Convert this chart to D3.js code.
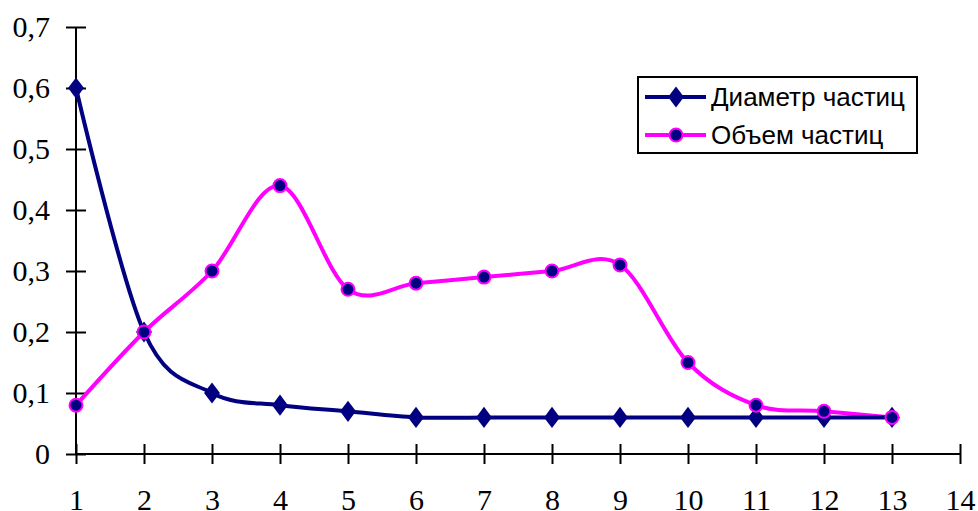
<!DOCTYPE html>
<html>
<head>
  <title>Диаметр и объем частиц</title>
  <script src="https://d3js.org/d3.v7.min.js"></script>
  <style>
    body { margin: 0; background: #fff; }
  </style>
</head>
<body>
  <div id="chart"></div>
  <script>
  const xValues = [1, 2, 3, 4, 5, 6, 7, 8, 9, 10, 11, 12, 13];
  const diameter = [0.6, 0.2, 0.1, 0.08, 0.07, 0.06, 0.06, 0.06, 0.06, 0.06, 0.06, 0.06, 0.06];
  const volume = [0.08, 0.2, 0.3, 0.44, 0.27, 0.28, 0.29, 0.3, 0.31, 0.15, 0.08, 0.07, 0.06];
  const xTicks = [1, 2, 3, 4, 5, 6, 7, 8, 9, 10, 11, 12, 13, 14];
  const yTicks = [0, 0.1, 0.2, 0.3, 0.4, 0.5, 0.6, 0.7];
  const seriesNames = ["Диаметр частиц", "Объем частиц"];

  const W = 978, H = 511;
  const margin = { top: 27, right: 18, bottom: 57, left: 76 };
  const width = W - margin.left - margin.right;
  const height = H - margin.top - margin.bottom;

  const svg = d3.select("#chart")
    .append("svg")
    .attr("width", W)
    .attr("height", H);

  const g = svg.append("g")
    .attr("transform", `translate(${margin.left},${margin.top})`);

  const x = d3.scaleLinear().domain([1, 14]).range([0, width]);
  const y = d3.scaleLinear().domain([0, 0.7]).range([height, 0]);

  const fmt = d => d === 0 ? "0" : d3.format(".1f")(d).replace(".", ",");

  // y axis
  const yAxis = g.append("g")
    .call(d3.axisLeft(y).tickValues(yTicks).tickFormat(fmt).tickSize(10).tickPadding(16));
  yAxis.selectAll(".tick line").attr("x2", 10).attr("x1", -10);
  yAxis.select(".domain").remove();
  yAxis.append("line").attr("x1", 0).attr("x2", 0).attr("y1", 0).attr("y2", height);

  // x axis
  const xAxis = g.append("g")
    .attr("transform", `translate(0,${height})`)
    .call(d3.axisBottom(x).tickValues(xTicks).tickFormat(d3.format("d")).tickSize(10).tickPadding(25));
  xAxis.selectAll(".tick line").attr("y1", -10).attr("y2", 10);
  xAxis.select(".domain").remove();
  xAxis.append("line").attr("x1", 0).attr("x2", width).attr("y1", 0).attr("y2", 0);

  g.selectAll(".tick text")
    .attr("font-family", "'Liberation Serif', 'Times New Roman', serif")
    .attr("font-size", 30)
    .attr("fill", "#000");
  g.selectAll("line").attr("stroke", "#000").attr("stroke-width", 2);

  const line = d3.line()
    .x((d, i) => x(xValues[i]))
    .y(d => y(d))
    .curve(d3.curveCatmullRom.alpha(0));

  // volume series
  g.append("path")
    .datum(volume)
    .attr("d", line)
    .attr("fill", "none")
    .attr("stroke", "#ff00ff")
    .attr("stroke-width", 4);

  // diameter series
  g.append("path")
    .datum(diameter)
    .attr("d", line)
    .attr("fill", "none")
    .attr("stroke", "#000080")
    .attr("stroke-width", 4);

  const diamond = d3.symbol().type(d3.symbolDiamond).size(130);

  g.selectAll(".dmark")
    .data(diameter)
    .enter()
    .append("path")
    .attr("class", "dmark")
    .attr("transform", (d, i) => `translate(${x(xValues[i])},${y(d)}) scale(1.3,1)`)
    .attr("d", diamond)
    .attr("fill", "#000080");

  g.selectAll(".vmark")
    .data(volume)
    .enter()
    .append("circle")
    .attr("class", "vmark")
    .attr("cx", (d, i) => x(xValues[i]))
    .attr("cy", d => y(d))
    .attr("r", 6.5)
    .attr("fill", "#000080")
    .attr("stroke", "#ff00ff")
    .attr("stroke-width", 2);

  // legend
  const legend = svg.append("g").attr("transform", "translate(638,77)");
  legend.append("rect")
    .attr("width", 279)
    .attr("height", 76)
    .attr("fill", "#fff")
    .attr("stroke", "#000")
    .attr("stroke-width", 2);

  const rows = [
    { name: seriesNames[0], color: "#000080", marker: "diamond" },
    { name: seriesNames[1], color: "#ff00ff", marker: "circle" }
  ];

  rows.forEach((r, i) => {
    const cy = 20 + i * 38;
    legend.append("line")
      .attr("x1", 7).attr("x2", 68)
      .attr("y1", cy).attr("y2", cy)
      .attr("stroke", r.color)
      .attr("stroke-width", 4);
    if (r.marker === "diamond") {
      legend.append("path")
        .attr("transform", `translate(38,${cy}) scale(1.3,1)`)
        .attr("d", diamond)
        .attr("fill", "#000080");
    } else {
      legend.append("circle")
        .attr("cx", 38).attr("cy", cy).attr("r", 6.5)
        .attr("fill", "#000080")
        .attr("stroke", "#ff00ff")
        .attr("stroke-width", 2);
    }
    legend.append("text")
      .attr("x", 73)
      .attr("y", cy)
      .attr("dy", "0.36em")
      .attr("font-family", "'Liberation Sans', Arial, sans-serif")
      .attr("font-size", 26)
      .attr("fill", "#000")
      .text(r.name);
  });
  </script>
</body>
</html>
